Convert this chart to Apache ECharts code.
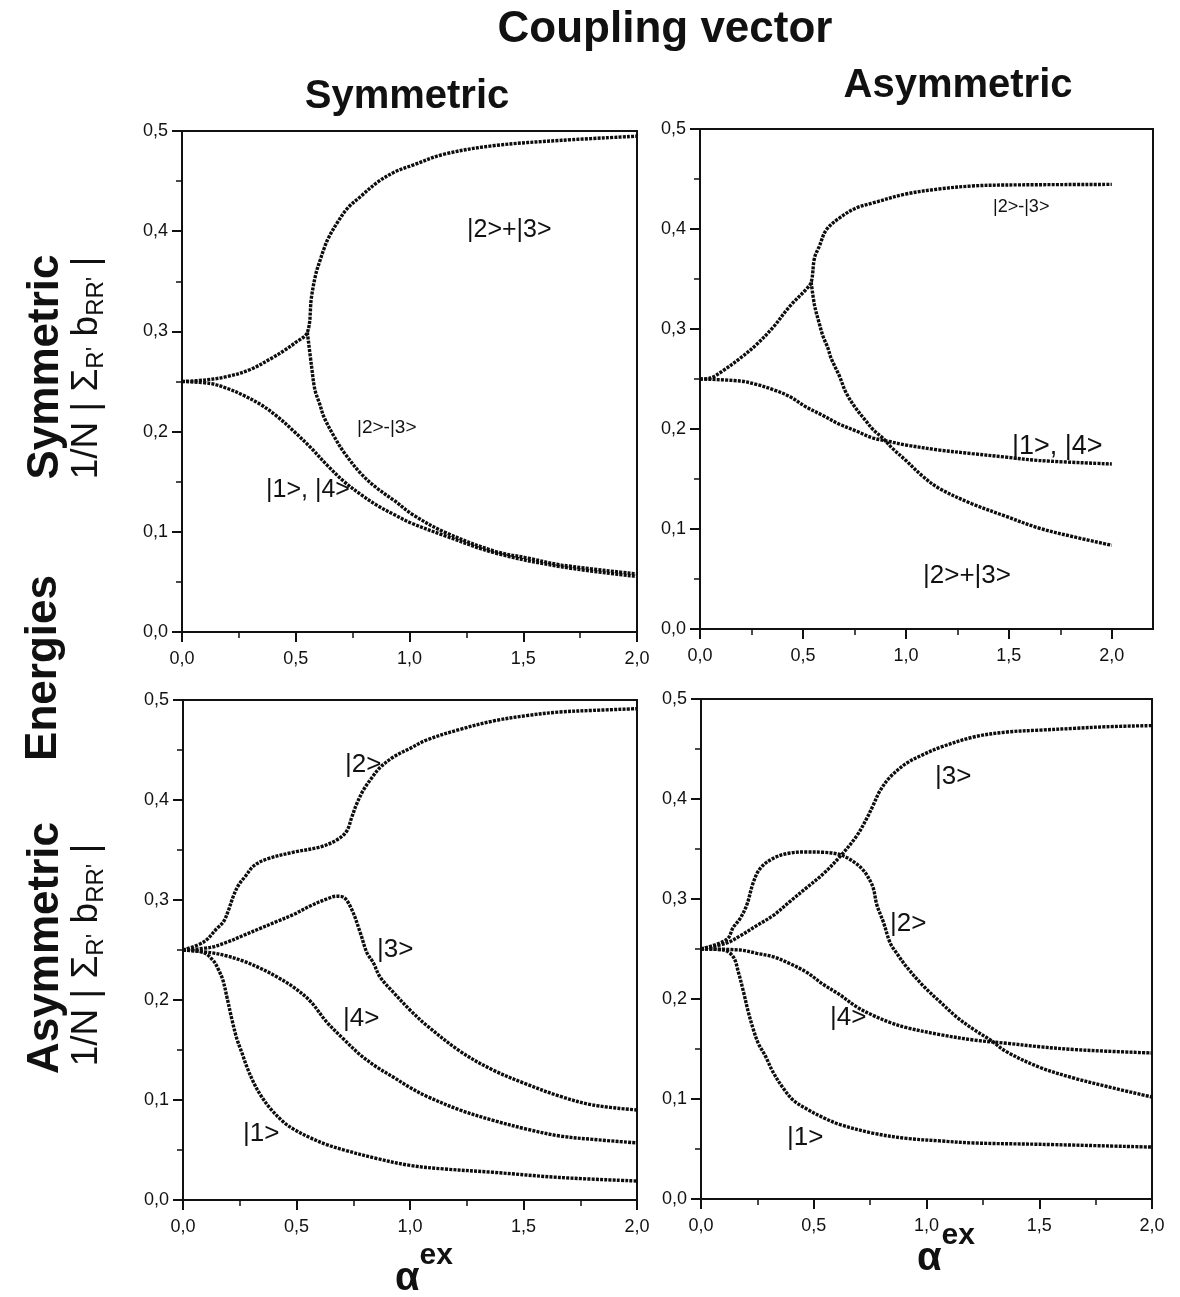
<!DOCTYPE html>
<html><head><meta charset="utf-8">
<script src="https://cdn.jsdelivr.net/npm/echarts@6/dist/echarts.min.js"></script>
<style>html,body{margin:0;padding:0;background:#fff}#c{width:1180px;height:1297px}</style>
</head><body><div id="c"></div>
<script>
// ---------- Top-left: symmetric coupling / symmetric energies ----------
const tlPlusX  = [0, 0.1, 0.2, 0.3, 0.4, 0.45, 0.5, 0.551, 0.569, 0.588, 0.607, 0.625, 0.643, 0.684, 0.728, 0.787, 0.86, 0.934, 1.015, 1.154, 1.375, 1.669, 2.0];
const tlPlusY  = [0.25, 0.2515, 0.255, 0.262, 0.274, 0.281, 0.289, 0.299, 0.334, 0.357, 0.371, 0.383, 0.393, 0.409, 0.423, 0.435, 0.449, 0.459, 0.466, 0.477, 0.4855, 0.4907, 0.4948];
const tlMinusX = [0.551, 0.569, 0.584, 0.606, 0.625, 0.669, 0.713, 0.787, 0.86, 0.934, 1.015, 1.154, 1.375, 1.522, 1.669, 2.0];
const tlMinusY = [0.299, 0.266, 0.242, 0.227, 0.214, 0.195, 0.179, 0.158, 0.143, 0.131, 0.117, 0.0997, 0.0806, 0.0737, 0.0668, 0.058];
const tl14X    = [0, 0.125, 0.2, 0.272, 0.346, 0.419, 0.493, 0.566, 0.64, 0.713, 0.787, 0.86, 0.934, 1.015, 1.154, 1.375, 1.669, 2.0];
const tl14Y    = [0.25, 0.248, 0.243, 0.236, 0.227, 0.215, 0.2, 0.184, 0.166, 0.15, 0.137, 0.126, 0.117, 0.108, 0.0962, 0.0789, 0.065, 0.0554];

// ---------- Top-right: asymmetric coupling / symmetric energies ----------
const trMinusX = [0, 0.05, 0.113, 0.194, 0.274, 0.355, 0.435, 0.516, 0.54, 0.556, 0.58, 0.613, 0.677, 0.758, 0.839, 1.0, 1.16, 1.32, 1.48, 2.0];
const trMinusY = [0.25, 0.251, 0.2585, 0.2706, 0.2844, 0.3017, 0.3225, 0.3398, 0.3467, 0.371, 0.383, 0.399, 0.411, 0.421, 0.426, 0.435, 0.44, 0.443, 0.444, 0.4446];
const trPlusX  = [0.54, 0.556, 0.58, 0.597, 0.621, 0.637, 0.677, 0.71, 0.758, 0.806, 0.839, 0.887, 0.935, 1.0, 1.08, 1.16, 1.32, 1.48, 1.645, 1.81, 2.0];
const trPlusY  = [0.3467, 0.324, 0.305, 0.293, 0.281, 0.2706, 0.253, 0.236, 0.2204, 0.208, 0.1997, 0.191, 0.1806, 0.1685, 0.153, 0.1408, 0.1253, 0.1131, 0.101, 0.0924, 0.0837];
const tr14X    = [0, 0.194, 0.274, 0.355, 0.435, 0.516, 0.597, 0.677, 0.758, 0.839, 0.919, 1.0, 1.16, 1.32, 1.48, 1.645, 2.0];
const tr14Y    = [0.25, 0.248, 0.2446, 0.2394, 0.2325, 0.222, 0.2135, 0.2048, 0.198, 0.191, 0.1875, 0.184, 0.179, 0.1754, 0.172, 0.1685, 0.165];

// ---------- Bottom-left: symmetric coupling / asymmetric energies ----------
const bl2X = [0, 0.091, 0.15, 0.179, 0.2, 0.223, 0.245, 0.274, 0.311, 0.37, 0.487, 0.604, 0.677, 0.72, 0.743, 0.765, 0.795, 0.831, 0.868, 0.927, 1.0, 1.073, 1.22, 1.367, 1.513, 1.66, 1.806, 2.0];
const bl2Y = [0.25, 0.258, 0.2716, 0.2785, 0.2896, 0.3045, 0.315, 0.3235, 0.334, 0.341, 0.3478, 0.353, 0.36, 0.3685, 0.3824, 0.396, 0.41, 0.422, 0.4325, 0.443, 0.4516, 0.46, 0.4706, 0.479, 0.4844, 0.488, 0.4896, 0.4913];
const bl3X = [0, 0.12, 0.194, 0.267, 0.34, 0.413, 0.487, 0.56, 0.633, 0.677, 0.707, 0.743, 0.78, 0.81, 0.839, 0.868, 0.927, 1.0, 1.073, 1.22, 1.367, 1.513, 1.66, 1.806, 2.0];
const bl3Y = [0.25, 0.2526, 0.2578, 0.2647, 0.2716, 0.2785, 0.2855, 0.294, 0.301, 0.3038, 0.3028, 0.2907, 0.268, 0.2474, 0.237, 0.223, 0.2076, 0.19, 0.1747, 0.1488, 0.1298, 0.1159, 0.1038, 0.095, 0.09];
const bl4X = [0, 0.12, 0.194, 0.267, 0.34, 0.413, 0.487, 0.56, 0.633, 0.707, 0.78, 0.853, 0.927, 1.0, 1.073, 1.22, 1.367, 1.513, 1.66, 1.806, 2.0];
const bl4Y = [0.25, 0.2474, 0.244, 0.2388, 0.2318, 0.2232, 0.2128, 0.199, 0.178, 0.161, 0.1453, 0.133, 0.1228, 0.1125, 0.1038, 0.09, 0.0796, 0.0709, 0.064, 0.0606, 0.0571];
const bl1X = [0, 0.091, 0.135, 0.157, 0.176, 0.194, 0.216, 0.2375, 0.26, 0.2815, 0.311, 0.34, 0.384, 0.443, 0.487, 0.56, 0.633, 0.707, 0.853, 1.0, 1.147, 1.367, 1.66, 2.0];
const bl1Y = [0.25, 0.2474, 0.2388, 0.23, 0.2197, 0.2024, 0.18, 0.161, 0.147, 0.133, 0.1176, 0.1055, 0.0917, 0.0779, 0.0709, 0.0623, 0.0554, 0.0502, 0.0415, 0.0346, 0.0311, 0.0277, 0.0225, 0.019];

// ---------- Bottom-right: asymmetric coupling / asymmetric energies ----------
const br3X = [0, 0.114, 0.173, 0.247, 0.321, 0.395, 0.469, 0.543, 0.617, 0.691, 0.735, 0.765, 0.794, 0.839, 0.913, 0.987, 1.06, 1.209, 1.357, 1.504, 1.652, 1.8, 2.0];
const br3Y = [0.25, 0.256, 0.263, 0.2734, 0.2837, 0.2976, 0.3114, 0.3253, 0.3426, 0.3633, 0.3806, 0.3945, 0.4083, 0.422, 0.436, 0.4446, 0.4516, 0.462, 0.467, 0.4689, 0.4706, 0.4723, 0.4734];
const br2X = [0, 0.114, 0.143, 0.173, 0.203, 0.232, 0.262, 0.321, 0.395, 0.469, 0.543, 0.617, 0.676, 0.72, 0.75, 0.765, 0.78, 0.809, 0.839, 0.868, 0.913, 0.987, 1.06, 1.135, 1.209, 1.283, 1.357, 1.504, 1.652, 1.8, 2.0];
const br2Y = [0.25, 0.2595, 0.2716, 0.2803, 0.294, 0.3166, 0.3304, 0.3408, 0.346, 0.347, 0.3467, 0.3443, 0.3374, 0.3287, 0.3183, 0.31, 0.294, 0.2768, 0.256, 0.2457, 0.2318, 0.2128, 0.1972, 0.1817, 0.1696, 0.159, 0.147, 0.1315, 0.121, 0.1125, 0.102];
const br4X = [0, 0.173, 0.247, 0.321, 0.395, 0.469, 0.543, 0.617, 0.691, 0.765, 0.839, 0.913, 1.06, 1.209, 1.357, 1.504, 1.652, 1.8, 2.0];
const br4Y = [0.25, 0.249, 0.2457, 0.2422, 0.2353, 0.2266, 0.2145, 0.204, 0.192, 0.1834, 0.1765, 0.1713, 0.1644, 0.159, 0.1557, 0.1522, 0.1495, 0.1478, 0.146];
const br1X = [0, 0.099, 0.143, 0.166, 0.188, 0.21, 0.232, 0.254, 0.284, 0.321, 0.365, 0.41, 0.469, 0.543, 0.617, 0.765, 0.913, 1.06, 1.209, 1.504, 2.0];
const br1Y = [0.25, 0.249, 0.2422, 0.2266, 0.2076, 0.1868, 0.1696, 0.1557, 0.1436, 0.1263, 0.1107, 0.0986, 0.09, 0.0813, 0.0744, 0.0657, 0.0606, 0.0581, 0.056, 0.0547, 0.0519];

// axis extents
const xMaxes = [2.0, 2.2, 2.0, 2.0];
const xTickValues = [0, 0.5, 1.0, 1.5, 2.0];

const FONT = '"Liberation Sans", Arial, Helvetica, sans-serif';
const INK = '#111111';
const fmt = v => v.toFixed(1).replace('.', ',');
const zip = (xs, ys) => xs.map((x, i) => [x, ys[i]]);

const grids = [
  {left: 182, top: 131, width: 455, height: 501},
  {left: 700, top: 129, width: 453, height: 500},
  {left: 183, top: 700, width: 454, height: 500},
  {left: 701, top: 699, width: 451, height: 500}
].map(g => Object.assign({show: true, borderColor: INK, borderWidth: 2, backgroundColor: 'transparent'}, g));

const xAxes = xMaxes.map((mx, i) => ({
  type: 'value', gridIndex: i, min: 0, max: mx, interval: 0.5,
  axisLine: {show: true, onZero: false, lineStyle: {color: INK, width: 2}},
  axisTick: {show: true, length: 10, customValues: xTickValues, lineStyle: {color: INK, width: 2}},
  minorTick: {show: true, splitNumber: 2, length: 6, lineStyle: {color: INK, width: 1.5}},
  splitLine: {show: false}, minorSplitLine: {show: false},
  axisLabel: {customValues: xTickValues, formatter: fmt, fontSize: 18, color: INK, margin: 18, fontFamily: FONT}
}));
const yAxes = xMaxes.map((mx, i) => ({
  type: 'value', gridIndex: i, min: 0, max: 0.5, interval: 0.1,
  axisLine: {show: true, onZero: false, lineStyle: {color: INK, width: 2}},
  axisTick: {show: true, length: 10, lineStyle: {color: INK, width: 2}},
  minorTick: {show: true, splitNumber: 2, length: 6, lineStyle: {color: INK, width: 1.5}},
  splitLine: {show: false}, minorSplitLine: {show: false},
  axisLabel: {formatter: fmt, fontSize: 18, color: INK, margin: 14, fontFamily: FONT}
}));

function curve(name, idx, xs, ys) {
  return {
    name, type: 'line', xAxisIndex: idx, yAxisIndex: idx,
    data: zip(xs, ys), showSymbol: false, smooth: 0.35,
    lineStyle: {color: '#0d0d0d', width: 3.4, type: [3, 1.2]},
    silent: true, animation: false
  };
}

const series = [
  curve('|2>+|3>', 0, tlPlusX, tlPlusY),
  curve('|2>-|3>', 0, tlMinusX, tlMinusY),
  curve('|1>, |4>', 0, tl14X, tl14Y),
  curve('|2>-|3>', 1, trMinusX, trMinusY),
  curve('|2>+|3>', 1, trPlusX, trPlusY),
  curve('|1>, |4>', 1, tr14X, tr14Y),
  curve('|2>', 2, bl2X, bl2Y),
  curve('|3>', 2, bl3X, bl3Y),
  curve('|4>', 2, bl4X, bl4Y),
  curve('|1>', 2, bl1X, bl1Y),
  curve('|3>', 3, br3X, br3Y),
  curve('|2>', 3, br2X, br2Y),
  curve('|4>', 3, br4X, br4Y),
  curve('|1>', 3, br1X, br1Y)
];

function lbl(text, x, y, size) {
  return {type: 'text', x, y, z: 100, silent: true,
    style: {text, font: size + 'px ' + FONT, fill: INK, align: 'left', verticalAlign: 'middle'}};
}
function bold(text, x, y, size, rot) {
  return {type: 'text', x, y, z: 100, silent: true, rotation: rot || 0,
    style: {text, font: 'bold ' + size + 'px ' + FONT, fill: INK, align: 'center', verticalAlign: 'middle'}};
}
function sumLabel(x, y) {
  return {type: 'text', x, y, z: 100, silent: true, rotation: Math.PI / 2,
    style: {
      text: '{a|1/N | Σ}{s|R\'}{a| b}{s|RR\'}{a| |}',
      align: 'center', verticalAlign: 'middle',
      rich: {
        a: {font: '37px ' + FONT, fill: INK, lineHeight: 40, verticalAlign: 'top'},
        s: {font: '24px ' + FONT, fill: INK, lineHeight: 24, verticalAlign: 'bottom'}
      }
    }};
}
function alphaLabel(x, y) {
  return {type: 'text', x, y, z: 100, silent: true,
    style: {
      text: '{al|α}{ex|ex}',
      align: 'center', verticalAlign: 'middle',
      rich: {
        al: {font: 'bold 40px ' + FONT, fill: INK, lineHeight: 58, verticalAlign: 'bottom'},
        ex: {font: 'bold 30px ' + FONT, fill: INK, lineHeight: 26, verticalAlign: 'top'}
      }
    }};
}

const graphic = [
  bold('Coupling vector', 665, 30, 44),
  bold('Symmetric', 407, 97, 40),
  bold('Asymmetric', 958, 86, 40),
  bold('Symmetric', 46, 367, 44, Math.PI / 2),
  bold('Energies', 44, 668, 44, Math.PI / 2),
  bold('Asymmetric', 46, 948, 44, Math.PI / 2),
  sumLabel(88, 368),
  sumLabel(88, 955),
  alphaLabel(424, 1270),
  alphaLabel(946, 1250),
  // top-left labels
  lbl('|2>+|3>', 467, 230, 25),
  lbl('|2>-|3>', 357, 428, 19),
  lbl('|1>, |4>', 266, 490, 25),
  // top-right labels
  lbl('|2>-|3>', 993, 207, 18),
  lbl('|1>, |4>', 1012, 447, 27),
  lbl('|2>+|3>', 923, 576, 26),
  // bottom-left labels
  lbl('|2>', 345, 765, 26),
  lbl('|3>', 377, 950, 26),
  lbl('|4>', 343, 1019, 26),
  lbl('|1>', 243, 1134, 26),
  // bottom-right labels
  lbl('|3>', 935, 777, 26),
  lbl('|2>', 890, 924, 26),
  lbl('|4>', 830, 1018, 26),
  lbl('|1>', 787, 1138, 26)
];

const chart = echarts.init(document.getElementById('c'), null, {renderer: 'canvas'});
chart.setOption({
  animation: false,
  backgroundColor: '#ffffff',
  grid: grids, xAxis: xAxes, yAxis: yAxes, series, graphic
});
</script>
</body></html>
